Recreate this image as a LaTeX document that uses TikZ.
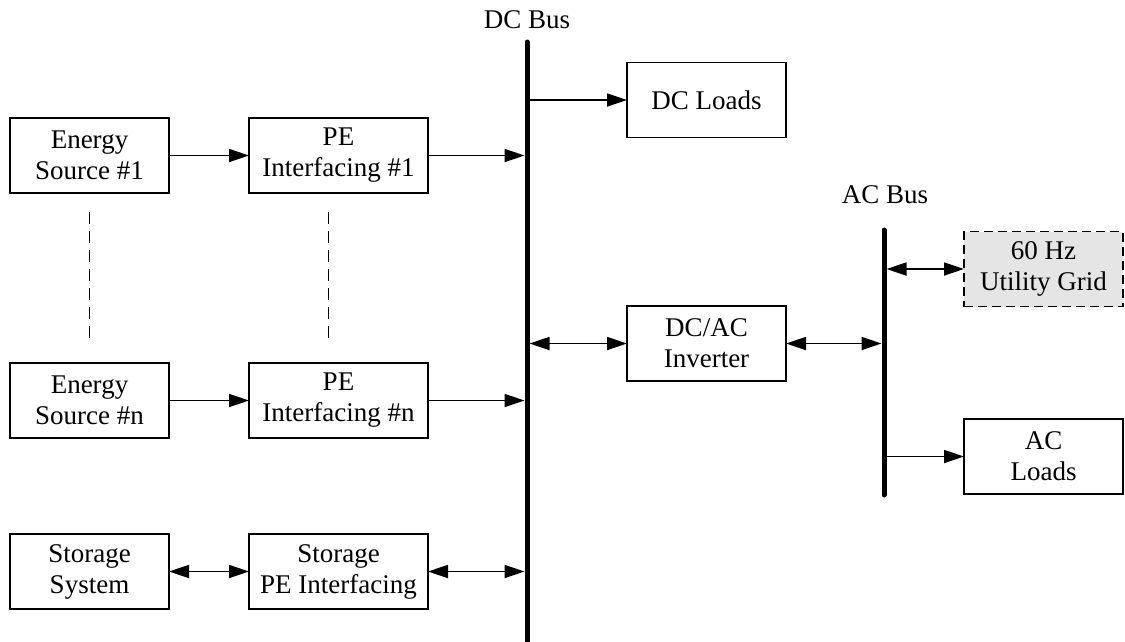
\documentclass[tikz,border=0pt]{standalone}
\usepackage{fontspec}
\setmainfont{Liberation Serif}
\usetikzlibrary{positioning,arrows.meta}

\begin{document}
\begin{tikzpicture}[x=1pt,y=-1pt,
  font=\fontsize{27}{31}\selectfont,
  >={Triangle[length=20pt,width=13pt]},
  block/.style={draw,line width=1.8pt,align=center,minimum width=159pt,
    minimum height=75pt,inner sep=0pt,outer sep=0pt},
  peblock/.style={block,minimum width=179pt},
  gridblock/.style={block,fill=black!10,dash pattern=on 9pt off 5pt},
  bus/.style={line width=5pt,line cap=round},
  link/.style={line width=1.8pt},
  dots/.style={line width=1.8pt,dash pattern=on 12pt off 7pt}]
\useasboundingbox (0,0) rectangle (1125,641);

% buses
\coordinate (dctop) at (527,42);
\coordinate (dcend) at (527,680);
\coordinate (actop) at (884,230);
\coordinate (acend) at (884,495);
\draw[bus] (dctop) -- (dcend);
\draw[bus] (actop) -- (acend);
\node (dclabel) at (527,20) {DC Bus};
\node (aclabel) at (885,195) {AC Bus};

% sources
\foreach \y/\k in {155.5/1,400.5/n}{
\node[block] (es\k) at (89.5,\y) {Energy\\Source \#\k};
\node[peblock] (pe\k) at (338.5,\y) {PE\\Interfacing \#\k};
\draw[link,->] (es\k) -- (pe\k);
\draw[link,->,shorten >=2.5pt] (pe\k) -- (pe\k -| dctop);
}
\draw[dots] ([yshift=-19pt]es1.south) -- ([yshift=25pt]esn.north);
\draw[dots] ([xshift=-10pt,yshift=-19pt]pe1.south) -- ([xshift=-10pt,yshift=25pt]pen.north);

% storage
\node[block] (ss) at (89.5,571.5) {Storage\\System};
\node[peblock] (ssp) at (338.5,571.5) {Storage\\PE Interfacing};
\draw[link,<->] (ss) -- (ssp);
\draw[link,<->,shorten >=2.5pt] (ssp) -- (ssp -| dctop);

% right side
\node[block] (dcl) at (706.5,100) {DC Loads};
\node[block] (inv) at (706.5,343.5) {DC/AC\\Inverter};
\node[gridblock] (grid) at (1043.5,269) {60 Hz\\Utility Grid};
\node[block] (acl) at (1043.5,456.5) {AC\\Loads};
\draw[link,->] (dcl -| dctop) -- (dcl);
\draw[link,<->,shorten <=2.5pt] (inv -| dctop) -- (inv);
\draw[link,<->,shorten >=2.5pt] (inv) -- (inv -| actop);
\draw[link,<->,shorten <=2.5pt] (grid -| actop) -- (grid);
\draw[link,->] (acl -| actop) -- (acl);
\end{tikzpicture}
\end{document}
